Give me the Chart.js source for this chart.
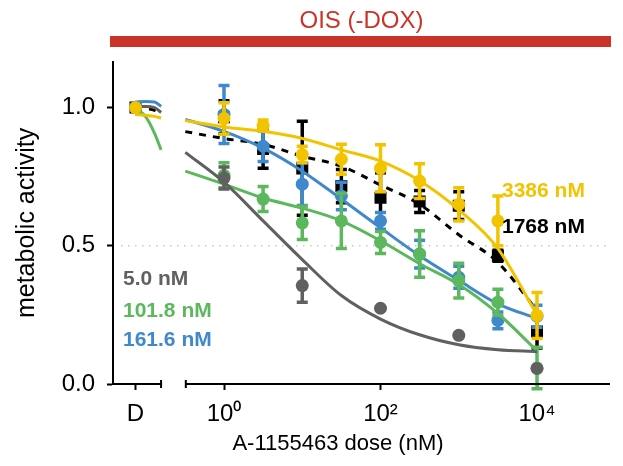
<!DOCTYPE html>
<html>
<head>
<meta charset="utf-8">
<script src="https://cdn.jsdelivr.net/npm/chart.js@4.4.0/dist/chart.umd.min.js"></script>
<style>
  html, body { margin: 0; padding: 0; background: #fff; }
  #wrap { width: 623px; height: 466px; }
</style>
</head>
<body>
<div id="wrap"><canvas id="doseChart" width="623" height="466"></canvas></div>
<script>
// Dose response to A-1155463 (OIS, -DOX): metabolic activity vs dose,
// normalised to the vehicle well (D). Points = mean +/- error, lines = fits.

const DOSE_D = 0.074;                 // vehicle column, left of the axis break
const DOSES = [1, 3.16, 10, 31.6, 100, 316, 1000, 3162, 10000];
const GRAY_DOSES = [1, 10, 100, 1000, 10000];

const GRAY_MEAN   = [0.745, 0.356, 0.274, 0.176, 0.056];
const GRAY_ERR    = [0.04, 0.06, 0, 0, 0];
const GREEN_MEAN  = [0.755, 0.669, 0.583, 0.59, 0.512, 0.47, 0.374, 0.296, 0.058];
const GREEN_ERR   = [0.045, 0.045, 0.06, 0.1, 0.04, 0.084, 0.063, 0.047, 0.075];
const BLUE_MEAN   = [0.975, 0.86, 0.723, 0.68, 0.59, 0.47, 0.386, 0.23, 0.245];
const BLUE_ERR    = [0.105, 0.055, 0.077, 0.05, 0.03, 0.05, 0.04, 0.03, 0.04];
const BLACK_MEAN  = [0.965, 0.85, 0.78, 0.716, 0.674, 0.66, 0.645, 0.464, 0.19];
const BLACK_ERR   = [0.06, 0.07, 0.17, 0.06, 0.09, 0.04, 0.05, 0.02, 0.06];
const YELLOW_MEAN = [0.96, 0.935, 0.83, 0.813, 0.78, 0.734, 0.65, 0.59, 0.248];
const YELLOW_ERR  = [0.057, 0.02, 0.03, 0.054, 0.085, 0.063, 0.06, 0.09, 0.083];

// fitted curves, sampled every half decade
const FIT_DOSES  = [0.32, 1, 3.16, 10, 31.6, 100, 316, 1000, 3162, 10000];
const GRAY_FIT   = [0.838, 0.73, 0.59, 0.45, 0.32, 0.235, 0.178, 0.142, 0.124, 0.117];
const GREEN_FIT  = [0.77, 0.723, 0.673, 0.636, 0.59, 0.518, 0.435, 0.36, 0.255, 0.12];
const BLUE_FIT   = [0.957, 0.914, 0.853, 0.77, 0.669, 0.565, 0.464, 0.375, 0.29, 0.237];
const BLACK_FIT  = [0.913, 0.888, 0.867, 0.824, 0.788, 0.72, 0.65, 0.54, 0.44, 0.265];
const YELLOW_FIT = [0.953, 0.93, 0.914, 0.888, 0.847, 0.806, 0.735, 0.63, 0.49, 0.25];

// short fit stubs next to the vehicle point
const STUB_DOSES  = [0.073, 0.1, 0.13, 0.157];
const GRAY_STUB   = [1.004, 1.004, 1.0, 0.982];
const GREEN_STUB  = [1.0, 0.966, 0.906, 0.847];
const BLUE_STUB   = [1.02, 1.022, 1.02, 1.004];
const BLACK_STUB  = [0.998, 0.996, 0.99, 0.975];
const YELLOW_STUB = [0.975, 0.972, 0.968, 0.962];

const IC50_LABELS = ['5.0 nM', '101.8 nM', '161.6 nM', '1768 nM', '3386 nM'];
const X_TICKS = [DOSE_D, 1, 100, 10000];
const X_TICK_LABELS = ['D', '10\u2070', '10\u00B2', '10\u2074'];
const Y_TICKS = [0, 0.5, 1.0];

const GRAY = '#606060';
const GREEN = '#5CB85C';
const BLUE = '#4088CC';
const BLACK = '#000000';
const YELLOW = '#F2C400';
const RED = '#CC3328';

Chart.defaults.font.family = '"Liberation Sans", Arial, Helvetica, sans-serif';

const pts = (xs, ys) => xs.map((x, i) => ({ x, y: ys[i] }));

function pointSet(label, color, doses, mean, err, order, style) {
  return {
    label,
    data: pts([DOSE_D, ...doses], [1.0, ...mean]),
    errorBars: [0, ...err],
    showLine: false,
    pointStyle: style || 'circle',
    pointRadius: style === 'rect' ? 8.5 : 6.5,
    pointBackgroundColor: color,
    pointBorderColor: color,
    pointBorderWidth: 0,
    borderColor: color,
    order
  };
}

function curveSet(color, doses, values, order, dash) {
  return {
    data: pts(doses, values),
    borderColor: color,
    borderWidth: 3,
    borderDash: dash || [],
    pointRadius: 0,
    cubicInterpolationMode: 'monotone',
    fill: false,
    order
  };
}

const datasets = [
  pointSet('3386 nM', YELLOW, DOSES, YELLOW_MEAN, YELLOW_ERR, 0),
  curveSet(YELLOW, FIT_DOSES, YELLOW_FIT, 1),
  curveSet(YELLOW, STUB_DOSES, YELLOW_STUB, 1),
  pointSet('5.0 nM', GRAY, GRAY_DOSES, GRAY_MEAN, GRAY_ERR, 2),
  curveSet(GRAY, FIT_DOSES, GRAY_FIT, 3),
  curveSet(GRAY, STUB_DOSES, GRAY_STUB, 3),
  pointSet('101.8 nM', GREEN, DOSES, GREEN_MEAN, GREEN_ERR, 4),
  curveSet(GREEN, FIT_DOSES, GREEN_FIT, 5),
  curveSet(GREEN, STUB_DOSES, GREEN_STUB, 5),
  pointSet('161.6 nM', BLUE, DOSES, BLUE_MEAN, BLUE_ERR, 6),
  curveSet(BLUE, FIT_DOSES, BLUE_FIT, 7),
  curveSet(BLUE, STUB_DOSES, BLUE_STUB, 7),
  pointSet('1768 nM', BLACK, DOSES, BLACK_MEAN, BLACK_ERR, 8, 'rect'),
  curveSet(BLACK, FIT_DOSES, BLACK_FIT, 9, [7, 7]),
  curveSet(BLACK, STUB_DOSES, BLACK_STUB, 9, [7, 7])
];

// error bars go under each dataset's own markers
const errorBarPlugin = {
  id: 'errorBars',
  beforeDatasetDraw(chart, args) {
    const ds = chart.data.datasets[args.index];
    if (!ds.errorBars) return;
    const { ctx } = chart;
    const { x, y } = chart.scales;
    ctx.save();
    ctx.strokeStyle = ds.borderColor;
    ctx.lineWidth = 3.5;
    ds.data.forEach((p, i) => {
      const e = ds.errorBars[i];
      if (!e) return;
      const px = x.getPixelForValue(p.x);
      const top = y.getPixelForValue(p.y + e);
      const bot = y.getPixelForValue(p.y - e);
      ctx.beginPath();
      ctx.moveTo(px, top); ctx.lineTo(px, bot);
      ctx.moveTo(px - 5.5, top); ctx.lineTo(px + 5.5, top);
      ctx.moveTo(px - 5.5, bot); ctx.lineTo(px + 5.5, bot);
      ctx.stroke();
    });
    ctx.restore();
  }
};

// condition bar, 0.5 guide, broken x axis and text annotations
const decorPlugin = {
  id: 'decor',
  beforeDatasetsDraw(chart) {
    const { ctx, chartArea: a } = chart;
    const y = chart.scales.y;
    ctx.save();
    ctx.fillStyle = RED;
    ctx.fillRect(a.left - 3, 36, a.right - a.left + 4, 11);
    ctx.strokeStyle = '#c8c8c8';
    ctx.lineWidth = 1.5;
    ctx.setLineDash([1.5, 5.5]);
    const yh = y.getPixelForValue(0.5);
    ctx.beginPath();
    ctx.moveTo(a.left + 8, yh);
    ctx.lineTo(a.right, yh);
    ctx.stroke();
    ctx.restore();
  },
  afterDraw(chart) {
    const { ctx, chartArea: a } = chart;
    const x = chart.scales.x;
    const b = a.bottom;
    const breakL = x.getPixelForValue(0.157);
    const breakR = x.getPixelForValue(0.325);
    ctx.save();
    ctx.strokeStyle = '#000';
    ctx.lineWidth = 2;
    ctx.beginPath();
    ctx.moveTo(a.left, b); ctx.lineTo(breakL, b);
    ctx.moveTo(breakL, b - 4); ctx.lineTo(breakL, b + 4);
    ctx.moveTo(breakR, b - 4); ctx.lineTo(breakR, b + 4);
    ctx.moveTo(breakR, b); ctx.lineTo(a.right, b);
    ctx.stroke();

    ctx.textBaseline = 'middle';
    ctx.textAlign = 'left';
    ctx.font = 'bold 21px "Liberation Sans", Arial, sans-serif';
    const notes = [
      [IC50_LABELS[0], GRAY, a.left + 10, 279],
      [IC50_LABELS[1], GREEN, a.left + 10, 311],
      [IC50_LABELS[2], BLUE, a.left + 10, 340],
      [IC50_LABELS[3], BLACK, 502, 227],
      [IC50_LABELS[4], YELLOW, 502, 191]
    ];
    notes.forEach(([t, c, tx, ty]) => { ctx.fillStyle = c; ctx.fillText(t, tx, ty); });

    ctx.fillStyle = '#000';
    ctx.textAlign = 'center';
    ctx.font = '22px "Liberation Sans", Arial, sans-serif';
    ctx.fillText('A-1155463 dose (nM)', 338, 444);
    ctx.restore();
  }
};

new Chart(document.getElementById('doseChart'), {
  type: 'line',
  data: { datasets },
  options: {
    responsive: false,
    animation: false,
    layout: { padding: { left: 0, right: 13, top: 0, bottom: 0 } },
    plugins: {
      legend: { display: false },
      tooltip: { enabled: false },
      title: {
        display: true,
        text: 'OIS (-DOX)',
        color: RED,
        fullSize: false,
        font: { size: 24, weight: 'normal' },
        padding: { top: 7, bottom: 26 }
      }
    },
    scales: {
      x: {
        type: 'logarithmic',
        min: 0.03815,
        max: 85640,
        afterBuildTicks: s => { s.ticks = X_TICKS.map(v => ({ value: v })); },
        afterFit: s => { s.height = 82; },
        border: { display: false },
        grid: { drawOnChartArea: false, tickLength: 6, tickWidth: 2, tickColor: '#000' },
        ticks: {
          color: '#000',
          font: { size: 24 },
          padding: 10,
          maxRotation: 0,
          autoSkip: false,
          callback: (v, i) => X_TICK_LABELS[i]
        }
      },
      y: {
        min: 0,
        max: 1.1655,
        afterBuildTicks: s => { s.ticks = Y_TICKS.map(v => ({ value: v })); },
        afterFit: s => { s.width = 113; },
        border: { color: '#000', width: 2 },
        grid: { drawOnChartArea: false, tickLength: 6, tickWidth: 2, tickColor: '#000' },
        ticks: { color: '#000', font: { size: 24 }, padding: 12, callback: v => v.toFixed(1) },
        title: {
          display: true,
          text: 'metabolic activity',
          color: '#000',
          font: { size: 25 },
          padding: { top: 12, bottom: 0 }
        }
      }
    }
  },
  plugins: [errorBarPlugin, decorPlugin]
});
</script>
</body>
</html>
